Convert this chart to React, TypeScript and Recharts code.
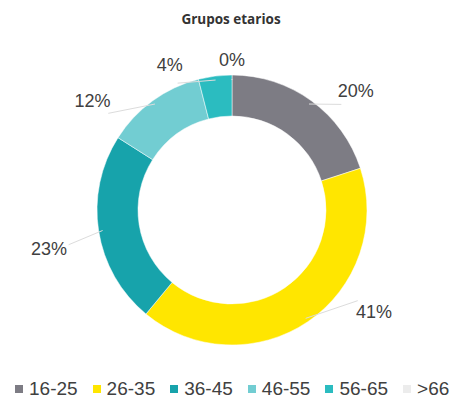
import { PieChart, Pie, Cell } from "recharts";

const CATEGORIES = ["16-25", "26-35", "36-45", "46-55", "56-65", ">66"];
const SHARES = [20, 41, 23, 12, 4, 0];
const COLORS = ["#7d7c84", "#ffe600", "#17a3ab", "#72cdd2", "#2bbcc0", "#ececec"];

// label placement tweaks (degrees clockwise, extra radius) to mimic the Excel "best fit" labels
const LABEL_TWEAK: [number, number][] = [
  [10, 37],
  [-20, 40],
  [-3, 52],
  [-16, 42],
  [-16, 23],
  [0, 15],
];

const RAD = Math.PI / 180;
const FONT = "'Liberation Sans', Arial, sans-serif";

const data = CATEGORIES.map((name, i) => ({ name, value: SHARES[i] }));

function renderLabel(props: any) {
  const { cx, cy, midAngle, outerRadius, index } = props;
  const [da, dr] = LABEL_TWEAK[index] ?? [0, 30];
  const a = (90 - midAngle + da) * RAD; // clockwise from top
  const r = outerRadius + dr;
  const x = cx + r * Math.sin(a);
  const y = cy - r * Math.cos(a);
  const m = (90 - midAngle) * RAD;
  const x0 = cx + (outerRadius - 4) * Math.sin(m);
  const y0 = cy - (outerRadius - 4) * Math.cos(m);
  const x1 = cx + (r - 20) * Math.sin(a);
  const y1 = cy - (r - 20) * Math.cos(a);
  return (
    <g key={`lbl-${index}`}>
      <line x1={x0} y1={y0} x2={x1} y2={y1} stroke="#dcdcdc" strokeWidth={1} />
      <text
        x={x}
        y={y}
        textAnchor="middle"
        dominantBaseline="central"
        fill="#404040"
        fontSize={18}
        fontFamily={FONT}
      >
        {`${SHARES[index]}%`}
      </text>
    </g>
  );
}

export default function App() {
  return (
    <div
      style={{
        position: "absolute",
        left: 0,
        top: 0,
        width: 462,
        height: 404,
        background: "#fff",
        fontFamily: FONT,
      }}
    >
      <div
        style={{
          position: "absolute",
          top: 10,
          left: 0,
          width: 462,
          textAlign: "center",
          fontSize: 13.5,
          fontWeight: 700,
          color: "#333",
          fontFamily: "'Open Sans', sans-serif",
        }}
      >
        Grupos etarios
      </div>
      <PieChart width={462} height={404} margin={{ top: 0, right: 0, bottom: 0, left: 0 }}>
        <Pie
          data={data}
          dataKey="value"
          nameKey="name"
          cx={232}
          cy={210}
          innerRadius={94}
          outerRadius={135}
          startAngle={90}
          endAngle={-270}
          stroke="#ffffff"
          strokeWidth={0.5}
          label={renderLabel}
          labelLine={false}
          isAnimationActive={false}
        >
          {data.map((d, i) => (
            <Cell key={d.name} fill={COLORS[i]} />
          ))}
        </Pie>
      </PieChart>
      <div
        style={{
          position: "absolute",
          top: 378,
          left: 15,
          display: "flex",
          alignItems: "center",
          fontSize: 19,
          color: "#404040",
          whiteSpace: "nowrap",
        }}
      >
        {CATEGORIES.map((c, i) => (
          <span
            key={c}
            style={{ display: "flex", alignItems: "center", marginRight: 15 }}
          >
            <span
              style={{
                width: 8,
                height: 8,
                background: COLORS[i],
                marginRight: 6,
                display: "inline-block",
              }}
            />
            {c}
          </span>
        ))}
      </div>
    </div>
  );
}
